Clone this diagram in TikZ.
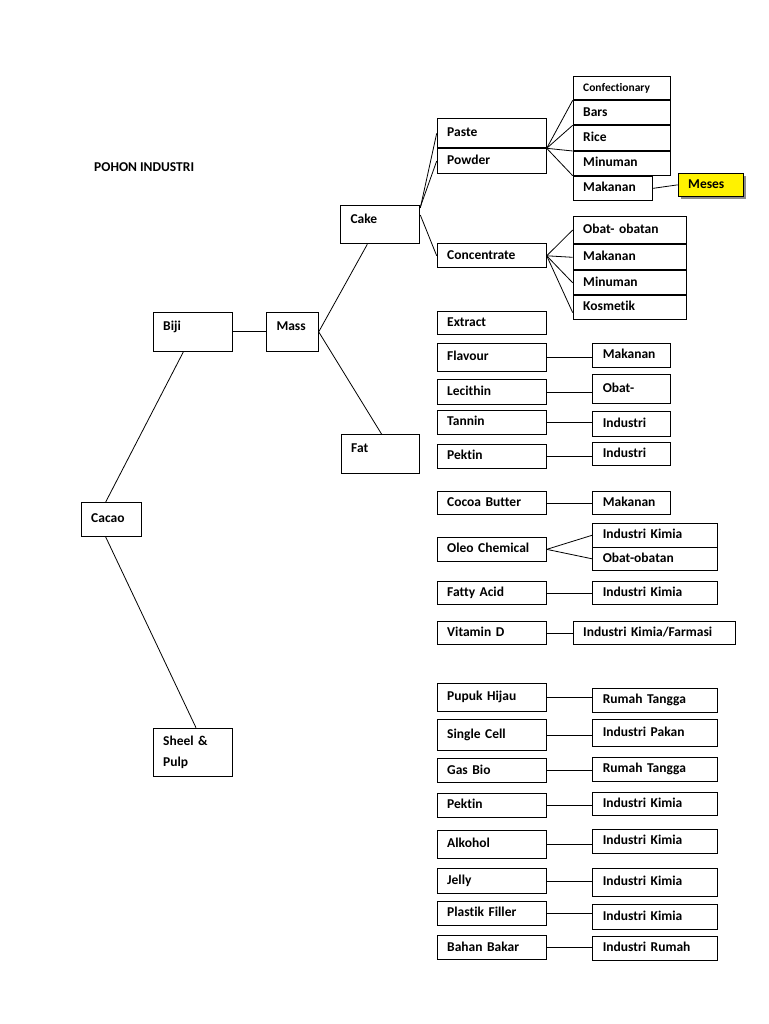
\documentclass[tikz,border=0pt]{standalone}
\usepackage{fontspec}
\setmainfont{Carlito}[Ligatures=NoCommon]
\usetikzlibrary{
    positioning,
    shadows
}
\newcommand{\isi}{\fontsize{13.5}{15}\selectfont\bfseries}

\begin{document}
\begin{tikzpicture}[
    x=1pt, y=-1pt,
    kotak/.style={
        rectangle, draw=black, line width=1pt, anchor=north west,
        inner xsep=10pt, inner ysep=0pt, align=left, font=\isi,
        text height=9pt, text depth=2.5pt
    },
    atas/.style={text depth=12pt},
    kiri/.style={kotak, text width=89pt},
    kanan/.style={kotak, text width=57.7pt},
    kananlebar/.style={kotak, text width=104.4pt},
    sorot/.style={
        fill=yellow, drop shadow={shadow xshift=2.5pt, shadow yshift=-2.5pt,
        fill=black!45, opacity=1}
    },
    garis/.style={line width=0.8pt}
]
\useasboundingbox (0,0) rectangle (768,1024);

% Judul
\node[anchor=west, font=\isi] (judul) at (90.7,167.3) {POHON INDUSTRI};

% Batang utama pohon
\node[kotak, text width=40.3pt, minimum height=34pt] (cacao) at (80.7,502) {Cacao};
\node[kotak, atas, text width=59pt, minimum height=39.3pt] (biji) at (152.7,311.7) {Biji};
\node[kotak, text width=59pt, minimum height=48.3pt, text height=9pt, text depth=23pt,
    font=\fontsize{13.5}{20.7}\selectfont\bfseries] (sheel) at (152.7,727.7) {Sheel \&\\Pulp};
\node[kotak, atas, text width=31.7pt, minimum height=39.3pt] (mass) at (266,311.7) {Mass};
\node[kotak, atas, text width=59.3pt, minimum height=38.3pt] (cake) at (340,205) {Cake};
\node[kotak, atas, text width=58.6pt, minimum height=38.7pt] (fat) at (340.7,434.3) {Fat};

% Turunan cake
\node[kiri, minimum height=29pt] (paste) at (436.7,118.3) {Paste};
\node[kiri, minimum height=24.4pt, below=0pt of paste] (powder) {Powder};
\node[kiri, minimum height=24pt] (concentrate) at (436.7,243.3) {Concentrate};

\node[kotak, text width=77.3pt, minimum height=23.6pt,
    font=\fontsize{11.5}{13}\selectfont\bfseries] (conf) at (572.7,75.7) {Confectionary};
\node[kotak, text width=77.3pt, minimum height=24pt, below=0pt of conf] (bars) {Bars};
\node[kotak, text width=77.3pt, minimum height=24.7pt, below=0pt of bars] (rice) {Rice};
\node[kotak, text width=77.3pt, minimum height=23.7pt, below=0pt of rice] (minum) {Minuman};
\node[kotak, text width=59.3pt, minimum height=24.3pt] (mak_pw) at (minum.south west) {Makanan};
\node[kotak, sorot, text width=45.3pt, minimum height=23.3pt] (meses) at (677.7,172.7) {Meses};

\node[kotak, text width=93pt, minimum height=27.6pt] (obat_con) at (572.7,215.7) {Obat- obatan};
\node[kotak, text width=93pt, minimum height=25pt, below=0pt of obat_con] (mak_con) {Makanan};
\node[kotak, text width=93pt, minimum height=24pt, below=0pt of mak_con] (min_con) {Minuman};
\node[kotak, text width=93pt, minimum height=23.7pt, below=0pt of min_con] (kosmetik) {Kosmetik};

% Kolom produk tengah
\node[kiri, minimum height=23.6pt] (extract) at (436.7,310.7) {Extract};
\node[kiri, minimum height=28pt] (flavour) at (436.7,342.7) {Flavour};
\node[kiri, minimum height=25pt] (lecithin) at (436.7,379) {Lecithin};
\node[kiri, minimum height=24pt] (tannin) at (436.7,410) {Tannin};
\node[kiri, minimum height=24.3pt] (pektin_a) at (436.7,444) {Pektin};
\node[kiri, minimum height=23.3pt] (cocoa) at (436.7,491) {Cocoa Butter};
\node[kiri, minimum height=24.3pt] (oleo) at (436.7,536.7) {Oleo Chemical};
\node[kiri, minimum height=23.3pt] (fatty) at (436.7,581) {Fatty Acid};
\node[kiri, minimum height=23.3pt] (vitd) at (436.7,621) {Vitamin D};
\node[kiri, minimum height=28.3pt] (pupuk) at (436.7,682.7) {Pupuk Hijau};
\node[kiri, minimum height=30.7pt] (single) at (436.7,719.3) {Single Cell};
\node[kiri, minimum height=24pt] (gasbio) at (436.7,758.3) {Gas Bio};
\node[kiri, minimum height=24pt] (pektin_b) at (436.7,792.7) {Pektin};
\node[kiri, minimum height=27.7pt] (alkohol) at (436.7,830) {Alkohol};
\node[kiri, minimum height=24.4pt] (jelly) at (436.7,868.3) {Jelly};
\node[kiri, minimum height=24pt] (plastik) at (436.7,901) {Plastik Filler};
\node[kiri, minimum height=24pt] (bahan) at (436.7,935.3) {Bahan Bakar};

% Kolom kegunaan kanan
\node[kanan, minimum height=24pt] (mak_fl) at (592.3,342.7) {Makanan};
\node[kanan, minimum height=28.4pt] (obat_le) at (592.3,374.3) {Obat-};
\node[kanan, minimum height=25pt] (ind_ta) at (592.3,411) {Industri};
\node[kanan, minimum height=23.3pt] (ind_pk) at (592.3,441.7) {Industri};
\node[kanan, minimum height=23.3pt] (mak_co) at (592.3,491) {Makanan};
\node[kananlebar, minimum height=24pt] (kim_ol) at (592.3,522.7) {Industri Kimia};
\node[kananlebar, minimum height=23.3pt] (obat_ol) at (592.3,546.7) {Obat-obatan};
\node[kananlebar, minimum height=23.3pt] (kim_fa) at (592.3,581) {Industri Kimia};
\node[kotak, text width=142.3pt, minimum height=23.3pt] (farmasi) at (572.7,621) {Industri Kimia/Farmasi};
\node[kananlebar, minimum height=23.4pt] (rt_pu) at (592.3,688.3) {Rumah Tangga};
\node[kananlebar, minimum height=26.7pt] (pakan) at (592.3,719.3) {Industri Pakan};
\node[kananlebar, minimum height=24.3pt] (rt_ga) at (592.3,756.7) {Rumah Tangga};
\node[kananlebar, minimum height=23.3pt] (kim_pk) at (592.3,791.7) {Industri Kimia};
\node[kananlebar, minimum height=23.4pt] (kim_al) at (592.3,829.3) {Industri Kimia};
\node[kananlebar, minimum height=27.4pt] (kim_je) at (592.3,868.3) {Industri Kimia};
\node[kananlebar, minimum height=24.7pt] (kim_pl) at (592.3,904.3) {Industri Kimia};
\node[kananlebar, minimum height=24pt] (rumah) at (592.3,936) {Industri Rumah};

% ------------------------------- Garis --------------------------------------
\draw[garis] ([xshift=25pt]cacao.north west) -- ([xshift=30.6pt]biji.south west);
\draw[garis] ([xshift=25pt]cacao.south west) -- ([xshift=43.3pt]sheel.north west);
\draw[garis] (biji.east) -- (mass.west);
\draw[garis] (mass.east) -- ([xshift=27.3pt]cake.south west);
\draw[garis] (mass.east) -- ([xshift=41pt]fat.north west);

\draw[garis] ([yshift=-3pt]cake.north east) -- (paste.west);
\draw[garis] ([yshift=-2pt]cake.north east) -- (powder.west);
\draw[garis] ([yshift=-10pt]cake.north east) -- (concentrate.west);

\draw[garis] (paste.south east) -- (conf.south west);
\draw[garis] (paste.south east) -- (bars.south west);
\draw[garis] (paste.south east) -- (rice.south west);
\draw[garis] (paste.south east) -- (minum.south west);
\draw[garis] (mak_pw.east) -- (meses.west);

\draw[garis] (concentrate.east) -- (obat_con.west);
\draw[garis] (concentrate.east) -- (mak_con.west);
\draw[garis] (concentrate.east) -- (min_con.west);
\draw[garis] (concentrate.east) -- ([yshift=-5pt]kosmetik.west);

\draw[garis] (flavour.east) -- (flavour.east -| mak_fl.west);
\draw[garis] (lecithin.east) -- (lecithin.east -| obat_le.west);
\draw[garis] (tannin.east) -- (tannin.east -| ind_ta.west);
\draw[garis] (pektin_a.east) -- (pektin_a.east -| ind_pk.west);
\draw[garis] (cocoa.east) -- (cocoa.east -| mak_co.west);
\draw[garis] (oleo.east) -- (kim_ol.west);
\draw[garis] (oleo.east) -- (obat_ol.west);
\draw[garis] (fatty.east) -- (fatty.east -| kim_fa.west);
\draw[garis] (vitd.east) -- (vitd.east -| farmasi.west);

\draw[garis] (pupuk.east) -- (pupuk.east -| rt_pu.west);
\draw[garis] (single.east) -- (single.east -| pakan.west);
\draw[garis] (gasbio.east) -- (gasbio.east -| rt_ga.west);
\draw[garis] (pektin_b.east) -- (pektin_b.east -| kim_pk.west);
\draw[garis] (alkohol.east) -- (alkohol.east -| kim_al.west);
\draw[garis] (jelly.east) -- (jelly.east -| kim_je.west);
\draw[garis] (plastik.east) -- (plastik.east -| kim_pl.west);
\draw[garis] (bahan.east) -- (bahan.east -| rumah.west);

\end{tikzpicture}
\end{document}
